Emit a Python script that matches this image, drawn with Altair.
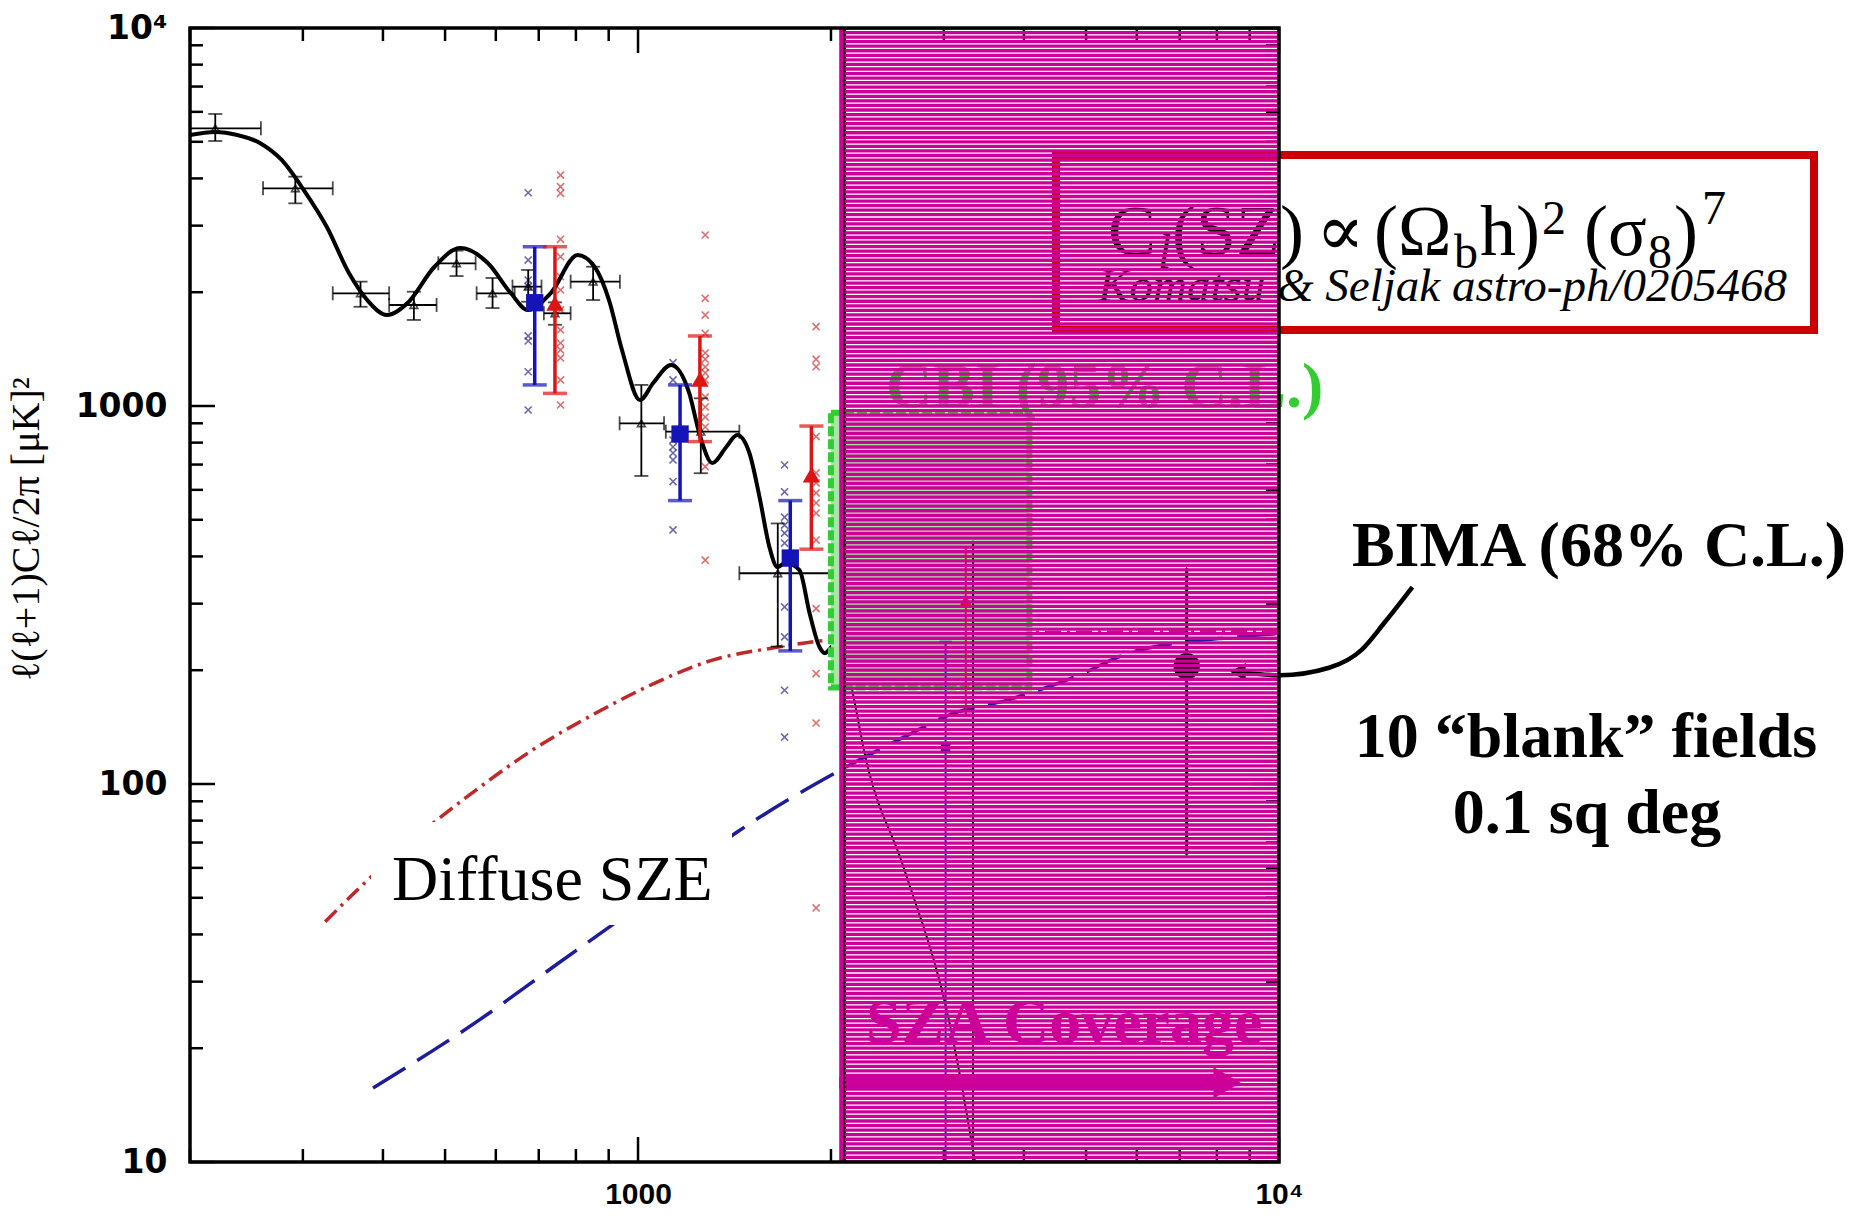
import altair as alt
import numpy as np
import pandas as pd

# plot area (pixels) and its offset on the page
W, H = 1089, 1134
PAD_L, PAD_T = 190, 28
PAGE_W, PAGE_H = 1865, 1223

MAGENTA = "#cc0099"
GREEN = "#33cc33"
BLUE = "#1414b8"
RED = "#dd1414"
SERIF = "Liberation Serif, DejaVu Serif, serif"

# ---- CMB power spectrum model (solid black) ----
theory_l = [200, 219, 237, 257, 278, 301, 327, 354, 378, 406, 437, 481, 528, 583, 633,
            673, 731, 805, 856, 901, 944, 1007, 1056, 1126, 1202, 1246, 1306, 1373, 1428,
            1492, 1547, 1603, 1650, 1700, 1786, 1852, 1920, 1955, 2012, 2060]
theory_v = [5212, 5309, 5212, 4965, 4476, 3727, 2975, 2248, 1907, 1740, 1873, 2332, 2618,
            2389, 1990, 1795, 1990, 2508, 2332, 1907, 1407, 1037, 1150, 1284, 1082, 848, 707,
            779, 838, 751, 575, 424, 375, 385, 368, 283, 230, 222, 232, 240]
tail_l = [2060, 2117, 2282, 2598, 3090, 3356]
tail_v = [240, 205, 111, 60, 21.7, 10]

# ---- CMB band powers (black open triangles, x and y error bars) ----
cmb_l = [219, 292, 369, 447, 521, 593, 674, 742, 851, 1012, 1253, 1652]
cmb_v = [5428, 3766, 1987, 1850, 2385, 1987, 2069, 1759, 2133, 900, 855, 361]
cmb_l_lo = [195, 260, 334, 409, 488, 560, 637, 713, 785, 936, 1105, 1439]
cmb_l_hi = [258, 334, 409, 485, 558, 642, 707, 785, 937, 1098, 1439, 2014]
cmb_v_lo = [5024, 3437, 1830, 1689, 2207, 1816, 1887, 1640, 1907, 653, 664, 231]
cmb_v_hi = [5923, 4043, 2133, 2006, 2576, 2181, 2290, 1880, 2336, 1137, 1048, 489]

# ---- two experiments (blue squares, red triangles) ----
blue_l = [690, 1163, 1728]
blue_v = [1876, 843, 396]
blue_lo = [1137, 562, 225]
blue_hi = [2638, 1137, 562]
red_l = [742, 1249, 1864]
red_v = [1870, 1177, 657]
red_lo = [1080, 805, 418]
red_hi = [2638, 1532, 885]

# individual field values (small crosses)
bx_l = [674] * 8 + [1134] * 8 + [1693] * 10
bx_v = [3666, 2433, 2154, 2068, 1532, 1486, 1232, 976,
        1302, 1172, 813, 779, 751, 720, 631, 470,
        698, 593, 508, 484, 461, 434, 294, 245, 177, 133]
rx_l = [757] * 14 + [1273] * 15 + [1896] * 14
rx_v = [4083, 3804, 3653, 2761, 2483, 2198, 2027, 1795, 1589, 1468, 1407, 1340, 1172, 1006,
        2834, 1927, 1740, 1557, 1381, 1330, 1268, 1223, 1172, 1056, 994, 935, 880, 691, 391,
        1621, 1330, 1270, 830, 665, 626, 589, 554, 521, 442, 291, 196, 145, 47]

# ---- diffuse SZE predictions ----
sze_red_l = [325, 362, 448, 556, 688, 853, 1056, 1310, 1621, 2052, 3000, 5000, 10000]
sze_red_v = [43.2, 51.8, 71.8, 95.8, 123.7, 153, 184, 213, 229, 242, 250, 252, 253]
sze_blue_l = [386, 556, 750, 1011, 1424, 2052, 2598, 3083, 3780, 4732, 5890, 8600, 10000]
sze_blue_v = [15.7, 23.3, 33.5, 48.1, 74.4, 108, 133, 153, 167, 190, 223, 245, 250]

# ---- CBI limit box, BIMA point and high-l measurements ----
cbi_box = {"l0": [2000], "l1": [4080], "v0": [180], "v1": [960]}
bima = {"l": [7178], "v": [205], "lo": [65], "hi": [372]}
hi_blue = {"l": [3019], "v": [125], "lo": [10], "hi": [238]}
hi_red = {"l": [3246], "v": [306], "lo": [153], "hi": [423]}
hi_black = {"l": [3332], "lo": [10], "hi": [440]}
arrow_l = [8628, 10037, 11972, 13440, 14600, 16150]
arrow_v = [198, 194, 203, 226, 267, 332]

# SZA coverage band and its arrow
SZA_L = [2060, 2100, 10000]
SZA_ARROW = {"l0": 2060, "l1": 8000, "head": 8300, "v": 16.2}

# axis ticks
x_major = [1000, 10000]
x_minor = [200, 300, 400, 500, 600, 700, 800, 900, 2000, 3000, 4000, 5000, 6000, 7000, 8000, 9000]
y_major = [10, 100, 1000, 10000]
y_minor = [20, 30, 40, 50, 60, 70, 80, 90, 200, 300, 400, 500, 600, 700, 800, 900,
           2000, 3000, 4000, 5000, 6000, 7000, 8000, 9000]

x_sc = alt.Scale(type="log", domain=[200, 10000])
y_sc = alt.Scale(type="log", domain=[10, 10000])

x_axis = alt.Axis(values=x_major, labelExpr="datum.value >= 10000 ? '10⁴' : '1000'",
                  labelFont="Liberation Sans Narrow, Liberation Sans", labelFontSize=30,
                  labelFontWeight="bold", labelColor="black", labelPadding=17,
                  ticks=False, tickSize=0, domain=False, grid=False, title=None,
                  labelOverlap=False, labelFlush=False)
y_axis = alt.Axis(values=y_major,
                  labelExpr="datum.value >= 10000 ? '10⁴' : format(datum.value, 'd')",
                  labelFont="DejaVu Sans", labelFontSize=33, labelFontWeight="bold",
                  labelColor="black", labelPadding=23, ticks=False, tickSize=0,
                  domain=False, grid=False, title=None, labelOverlap=False, labelFlush=False)


def xq(f):
    return alt.X(f"{f}:Q", scale=x_sc, axis=x_axis)


def yq(f):
    return alt.Y(f"{f}:Q", scale=y_sc, axis=y_axis)


one = pd.DataFrame({"k": [0]})


def txt(text, x, y, size, color="black", weight="normal", style="normal",
        font=SERIF, align="left", angle=0, baseline="alphabetic"):
    # x, y in page pixels
    return alt.Chart(one).mark_text(
        text=text, font=font, fontSize=size, fontWeight=weight, fontStyle=style,
        color=color, align=align, baseline=baseline, angle=angle
    ).encode(x=alt.value(x - PAD_L), y=alt.value(y - PAD_T))


layers = []


# tick marks pointing inward on all four sides
def xticks(vals, length):
    d = pd.DataFrame({"l": vals})
    b = alt.Chart(d).mark_rule(color="black", strokeWidth=2.5)
    return [b.encode(x=xq("l"), y=alt.value(H), y2=alt.value(H - length)),
            b.encode(x=xq("l"), y=alt.value(0), y2=alt.value(length))]


def yticks(vals, length):
    d = pd.DataFrame({"v": vals})
    b = alt.Chart(d).mark_rule(color="black", strokeWidth=2.5)
    return [b.encode(y=yq("v"), x=alt.value(0), x2=alt.value(length)),
            b.encode(y=yq("v"), x=alt.value(W), x2=alt.value(W - length))]


layers += xticks(x_minor, 13) + xticks(x_major, 25) + yticks(y_minor, 13) + yticks(y_major, 25)

# diffuse SZE curves
red_df = pd.DataFrame({"l": sze_red_l, "v": sze_red_v})
layers.append(alt.Chart(red_df).mark_line(color="#c02828", strokeWidth=3.5,
                                          strokeDash=[16, 6, 3, 6], clip=True,
                                          interpolate="monotone").encode(x=xq("l"), y=yq("v")))
blue_df = pd.DataFrame({"l": sze_blue_l, "v": sze_blue_v})
layers.append(alt.Chart(blue_df).mark_line(color="#1c1c9c", strokeWidth=3.5,
                                           strokeDash=[38, 14], clip=True,
                                           interpolate="monotone").encode(x=xq("l"), y=yq("v")))

# label backdrop and label
layers.append(alt.Chart(one).mark_rect(fill="white").encode(
    x=alt.value(371 - PAD_L), x2=alt.value(732 - PAD_L),
    y=alt.value(822 - PAD_T), y2=alt.value(925 - PAD_T)))
layers.append(txt("Diffuse SZE", 392, 900, 64))

# crosses: individual values
xshape = "M -1 -1 L 1 1 M -1 1 L 1 -1"
layers.append(alt.Chart(pd.DataFrame({"l": bx_l, "v": bx_v})).mark_point(
    shape=xshape, filled=False, color="#2a2a90", strokeWidth=1.6, size=50).encode(
    x=xq("l"), y=yq("v")))
layers.append(alt.Chart(pd.DataFrame({"l": rx_l, "v": rx_v})).mark_point(
    shape=xshape, filled=False, color="#cc3333", strokeWidth=1.6, size=50, clip=True).encode(
    x=xq("l"), y=yq("v")))

# model curve
th_df = pd.DataFrame({"l": theory_l, "v": theory_v})
layers.append(alt.Chart(th_df).mark_line(color="black", strokeWidth=4, clip=True,
                                         interpolate="monotone").encode(x=xq("l"), y=yq("v")))
tail_df = pd.DataFrame({"l": tail_l, "v": tail_v})
layers.append(alt.Chart(tail_df).mark_line(color="black", strokeWidth=2, clip=True,
                                           interpolate="monotone").encode(x=xq("l"), y=yq("v")))

# CMB band powers
cmb = pd.DataFrame({"l": cmb_l, "v": cmb_v, "l0": cmb_l_lo, "l1": cmb_l_hi,
                    "v0": cmb_v_lo, "v1": cmb_v_hi})
cb = alt.Chart(cmb)
layers.append(cb.mark_rule(color="black", strokeWidth=1.8, clip=True).encode(
    x=xq("l0"), x2="l1", y=yq("v")))
layers.append(cb.mark_rule(color="black", strokeWidth=1.8).encode(
    x=xq("l"), y=yq("v0"), y2="v1"))
for f in ["l0", "l1"]:
    layers.append(cb.mark_tick(orient="vertical", color="black", thickness=1.8, size=14,
                               clip=True).encode(x=xq(f), y=yq("v")))
for f in ["v0", "v1"]:
    layers.append(cb.mark_tick(orient="horizontal", color="black", thickness=1.8,
                               size=14).encode(x=xq("l"), y=yq(f)))
layers.append(cb.mark_point(shape="triangle-up", filled=False, color="black",
                            strokeWidth=1.6, size=60).encode(x=xq("l"), y=yq("v")))


def errpoints(l, v, lo, hi, color, shape, msize, cap=22, width=3.5):
    d = alt.Chart(pd.DataFrame({"l": l, "v": v, "lo": lo, "hi": hi}))
    out = [d.mark_rule(color=color, strokeWidth=width).encode(x=xq("l"), y=yq("lo"), y2="hi")]
    for f in ["lo", "hi"]:
        out.append(d.mark_tick(orient="horizontal", color=color, thickness=width,
                               size=cap).encode(x=xq("l"), y=yq(f)))
    out.append(d.mark_point(shape=shape, filled=True, color=color, opacity=1,
                            size=msize).encode(x=xq("l"), y=yq("v")))
    return out


layers += errpoints(blue_l, blue_v, blue_lo, blue_hi, BLUE, "square", 300, cap=24)
layers += errpoints(red_l, red_v, red_lo, red_hi, RED, "triangle-up", 300, cap=24)

# CBI upper-limit box and its label
layers.append(alt.Chart(pd.DataFrame(cbi_box)).mark_rect(
    fill="#a8e6a8", stroke=GREEN, strokeWidth=6, strokeDash=[10, 3]).encode(
    x=xq("l0"), x2="l1", y=yq("v0"), y2="v1"))
layers.append(txt("CBI (95% C.L.)", 886, 407, 64, color=GREEN, weight="bold"))

# measurements at high multipoles
layers += errpoints(hi_blue["l"], hi_blue["v"], hi_blue["lo"], hi_blue["hi"], BLUE,
                    "square", 90, cap=12, width=2)
layers += errpoints(hi_red["l"], hi_red["v"], hi_red["lo"], hi_red["hi"], RED,
                    "triangle-up", 150, cap=12, width=2)
layers.append(alt.Chart(pd.DataFrame(hi_black)).mark_rule(color="black", strokeWidth=2).encode(
    x=xq("l"), y=yq("lo"), y2="hi"))
layers += errpoints(bima["l"], bima["v"], bima["lo"], bima["hi"], "black", "circle", 700,
                    cap=1, width=3)

# pointer from the BIMA label
arr = pd.DataFrame({"l": arrow_l, "v": arrow_v})
layers.append(alt.Chart(arr).mark_line(color="black", strokeWidth=4.5, clip=False,
                                       interpolate="monotone").encode(x=xq("l"), y=yq("v")))
layers.append(alt.Chart(arr.head(1)).mark_point(shape="triangle-left", filled=True,
                                                color="black", opacity=1, size=320).encode(
    x=xq("l"), y=yq("v")))

# scaling-relation box
layers.append(alt.Chart(one).mark_rect(fill="white", stroke="#cc0000", strokeWidth=8).encode(
    x=alt.value(1056 - PAD_L), x2=alt.value(1814 - PAD_L),
    y=alt.value(155 - PAD_T), y2=alt.value(330 - PAD_T)))
BASE, SUB = 255, 268
for t, x, y, s, st in [("C", 1108, BASE, 72, "normal"), ("l", 1158, SUB, 48, "italic"),
                       ("(SZ)", 1172, BASE, 72, "normal"), ("∝", 1316, BASE, 72, "normal"),
                       ("(Ω", 1374, BASE, 72, "normal"), ("b", 1454, SUB, 48, "normal"),
                       ("h)", 1480, BASE, 72, "normal"), ("2", 1542, 234, 48, "normal"),
                       ("(σ", 1584, BASE, 72, "normal"), ("8", 1648, SUB, 48, "normal"),
                       (")", 1674, BASE, 72, "normal"), ("7", 1702, 224, 48, "normal")]:
    layers.append(txt(t, x, y, s, style=st))
layers.append(txt("Komatsu & Seljak astro-ph/0205468", 1787, 301, 47, style="italic",
                  align="right"))

# SZA coverage label and arrow
layers.append(txt("SZA Coverage", 866, 1043, 64, color=MAGENTA, weight="bold"))
layers.append(alt.Chart(pd.DataFrame({"l0": [SZA_ARROW["l0"]], "l1": [SZA_ARROW["l1"]],
                                      "v": [SZA_ARROW["v"]]})).mark_rule(
    color=MAGENTA, strokeWidth=12).encode(x=xq("l0"), x2="l1", y=yq("v")))
layers.append(alt.Chart(pd.DataFrame({"l": [SZA_ARROW["head"]], "v": [SZA_ARROW["v"]]})).mark_point(
    shape="triangle-right", filled=True, color=MAGENTA, opacity=1, size=1000).encode(
    x=xq("l"), y=yq("v")))

# SZA coverage band: solid edge, rule and horizontal hatch
layers.append(alt.Chart(pd.DataFrame({"l0": [SZA_L[0]], "l1": [SZA_L[1]], "v0": [10],
                                      "v1": [10000]})).mark_rect(color=MAGENTA).encode(
    x=xq("l0"), x2="l1", y=yq("v0"), y2="v1"))
layers.append(alt.Chart(pd.DataFrame({"l": [SZA_L[1]]})).mark_rule(
    color="black", strokeWidth=3).encode(x=xq("l")))
N_STRIPES = 250
stripes = pd.DataFrame({"v": 10 ** np.linspace(1, 4, N_STRIPES),
                        "l0": SZA_L[1], "l1": SZA_L[2]})
layers.append(alt.Chart(stripes).mark_rule(color=MAGENTA, strokeWidth=3.3, clip=True).encode(
    x=xq("l0"), x2="l1", y=yq("v")))

# frame
layers.append(alt.Chart(one).mark_rect(fill=None, stroke="black", strokeWidth=3.5).encode(
    x=alt.value(0), x2=alt.value(W), y=alt.value(0), y2=alt.value(H)))

# right-hand annotations
layers.append(txt("BIMA (68% C.L.)", 1599, 566, 64, weight="bold", align="center"))
layers.append(txt("10 “blank” fields", 1586, 757, 64, weight="bold", align="center"))
layers.append(txt("0.1 sq deg", 1587, 833, 64, weight="bold", align="center"))

# y-axis title
layers.append(txt("ℓ(ℓ+1)Cℓ/2π       [μK]²", 27, 529, 40, align="center", angle=270,
                  baseline="middle"))

chart = alt.layer(*layers).properties(
    width=W, height=H,
    autosize=alt.AutoSizeParams(type="none"),
    padding={"left": PAD_L, "top": PAD_T, "right": PAGE_W - PAD_L - W,
             "bottom": PAGE_H - PAD_T - H},
).configure(background="white").configure_view(stroke=None)

chart.save("out.html", embed_options={"renderer": "svg", "actions": False})
